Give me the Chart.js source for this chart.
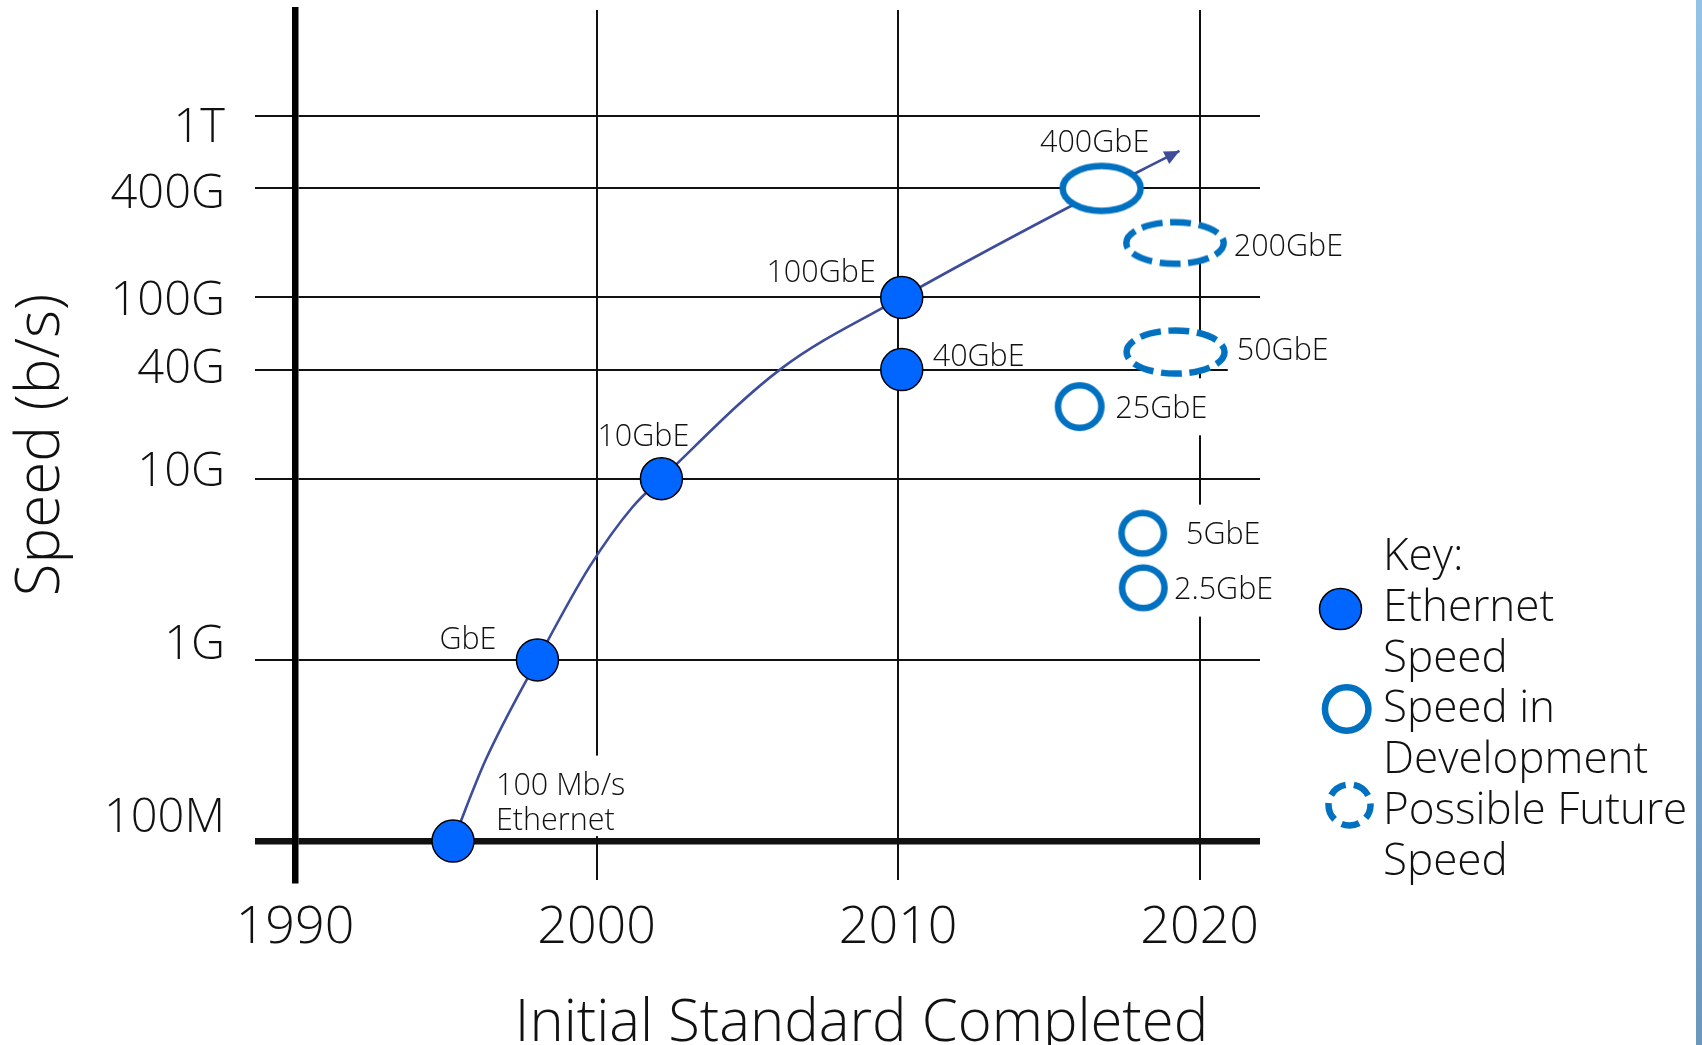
<!DOCTYPE html>
<html>
<head>
<meta charset="utf-8">
<title>Ethernet Speeds</title>
<script src="https://cdn.jsdelivr.net/npm/chart.js@4.4.1/dist/chart.umd.min.js"></script>
<style>
  html, body { margin: 0; padding: 0; background: #ffffff; overflow: hidden; }
  #wrap { position: relative; width: 1702px; height: 1045px; }
  #c { display: block; }
  #edge { position: absolute; top: 0; right: 0; width: 6px; height: 1045px;
          background: linear-gradient(#93c2e8, #6b97bf); }
</style>
</head>
<body>
<div id="wrap">
  <canvas id="c" width="1702" height="1045"></canvas>
  <div id="edge"></div>
</div>
<script>
// ---- data -------------------------------------------------------------
// Standards already shipping: year completed, rate in bit/s, name
const shippingYears  = [1995.24, 1998.04, 2002.15, 2010.12, 2010.12];
const shippingSpeeds = [1e8, 1e9, 1e10, 1e11, 4e10];
const shippingNames  = [['100 Mb/s', 'Ethernet'], 'GbE', '10GbE', '100GbE', '40GbE'];

// Speeds in development
const devYears  = [2016.75, 2016.02, 2018.11, 2018.13];
const devSpeeds = [4e11, 2.5e10, 5e9, 2.5e9];
const devNames  = ['400GbE', '25GbE', '5GbE', '2.5GbE'];

// Possible future speeds
const futureYears  = [2019.18, 2019.2];
const futureSpeeds = [2e11, 5e10];
const futureNames  = ['200GbE', '50GbE'];

// Trend curve through the standards, ending in an arrow
const trendYears  = [1995.24, 1996.32, 1998.04, 1999.77, 2001.2, 2002.15,
                     2006.08, 2010.12, 2015.48, 2019.33];
const trendSpeeds = [1e8, 2.8e8, 1e9, 3.27e9, 7e9, 1e10,
                     4e10, 1e11, 3.04e11, 6.44e11];

// Axes
const xTicks = [1990, 2000, 2010, 2020];
const yTicks = [1e8, 1e9, 1e10, 4e10, 1e11, 4e11, 1e12];
const yTickLabels = ['100M', '1G', '10G', '40G', '100G', '400G', '1T'];
const xTitle = 'Initial Standard Completed';
const yTitle = 'Speed (b/s)';

// Key
const keyTitle = 'Key:';
const keyEntries = [['Ethernet', 'Speed'], ['Speed in', 'Development'], ['Possible Future', 'Speed']];

// ---- style ------------------------------------------------------------
const FONT = "'Open Sans', 'Noto Sans', 'DejaVu Sans', sans-serif";
const LIGHT = '300';
const INK = '#111111';
const DOT_BLUE = '#0066ff';
const RING_BLUE = '#0070c0';
const TREND = '#3e4d9b';
const RING_W = 6.5;
const DASH = [21, 7.5];

// vertical nudge of each y tick label against its grid line (px, + is down)
const yLabelShift = [-22, -14, -6, 0, 4, 6, 12];

// ring outlines (centre-line radii)
const ringShape = {
  '400GbE': { rx: 39, ry: 22.5 },
  '25GbE':  { rx: 21.7, ry: 21.2 },
  '5GbE':   { rx: 21.2, ry: 20.3 },
  '2.5GbE': { rx: 21.2, ry: 20.3 },
  '200GbE': { rx: 48.7, ry: 20.8, dash: DASH },
  '50GbE':  { rx: 49, ry: 21.6, dash: DASH }
};

// label placement relative to its marker: dx, dy (to first baseline), alignment,
// optional white backing that hides grid lines behind the text
const labelPlace = {
  '100 Mb/s Ethernet': { dx: 43, dy: -46, align: 'left', box: { top: 39.5, bottom: 6 } },
  'GbE':    { dx: -41, dy: -11, align: 'right' },
  '10GbE':  { dx: -18, dy: -33, align: 'center' },
  '100GbE': { dx: -26, dy: -15, align: 'right' },
  '40GbE':  { dx: 31, dy: -4, align: 'left' },
  '400GbE': { dx: -61.7, dy: -36.7, align: 'left' },
  '200GbE': { dx: 58.8, dy: 13, align: 'left', box: { top: 39.5, bottom: 17.5 } },
  '50GbE':  { dx: 61.2, dy: 8.4, align: 'left', box: { top: 39.5, bottom: 17.5, left: 9 } },
  '25GbE':  { dx: 35.7, dy: 11.2, align: 'left', box: { top: 39.5, bottom: 17.5 } },
  '5GbE':   { dx: 43.3, dy: 10.9, align: 'left', box: { top: 39.5, bottom: 17.5 } },
  '2.5GbE': { dx: 30.7, dy: 11.3, align: 'left', box: { top: 39.5, bottom: 17.5 } }
};
const LABEL_SIZE = 30.5;
const LABEL_LINE = 35;

// ---- helpers ----------------------------------------------------------
function nameKey(n) { return Array.isArray(n) ? n.join(' ') : n; }

function strokeEllipse(ctx, cx, cy, rx, ry, dash, fill) {
  ctx.beginPath();
  ctx.ellipse(cx, cy, rx, ry, 0, 0, Math.PI * 2);
  if (fill) { ctx.fillStyle = fill; ctx.fill(); }
  ctx.setLineDash(dash || []);
  ctx.lineWidth = RING_W;
  ctx.strokeStyle = RING_BLUE;
  ctx.stroke();
  ctx.setLineDash([]);
}

// white-filled ring drawn onto its own canvas and used as a point style
function makeRing(name) {
  const s = ringShape[name];
  const w = Math.ceil(2 * s.rx + RING_W + 4);
  const h = Math.ceil(2 * s.ry + RING_W + 4);
  const cv = document.createElement('canvas');
  cv.width = w; cv.height = h;
  const ctx = cv.getContext('2d');
  if (s.dash) ctx.lineDashOffset = 6;
  strokeEllipse(ctx, w / 2, h / 2, s.rx, s.ry, s.dash, '#ffffff');
  return cv;
}

const toPoints = (xs, ys) => xs.map((x, i) => ({ x: x, y: ys[i] }));

// ---- key (legend) box on the right of the plot ----------------------
const KEY_WIDTH = 442;
const keyBox = {
  position: 'right', weight: 0, fullSize: false, options: {},
  left: 0, top: 0, right: 0, bottom: 0, width: 0, height: 0,
  isHorizontal() { return false; },
  update(maxWidth, maxHeight) { this.width = KEY_WIDTH; this.height = maxHeight; },
  draw() {
    const ctx = this.chart.ctx;
    const left = this.left;
    const textX = left + 123;
    const firstBase = 570, step = 50.8;
    ctx.save();
    ctx.font = LIGHT + ' 44px ' + FONT;
    ctx.fillStyle = INK;
    ctx.textAlign = 'left';
    ctx.textBaseline = 'alphabetic';
    let line = 0;
    ctx.fillText(keyTitle, textX, firstBase);
    line++;
    const markers = [
      { dx: 80.5, dy: -11.7, kind: 'dot' },
      { dx: 86.7, dy: -13.4, kind: 'ring' },
      { dx: 89.5, dy: -19, kind: 'dash' }
    ];
    keyEntries.forEach((entry, k) => {
      const base0 = firstBase + line * step;
      entry.forEach((txt) => {
        ctx.fillText(txt, textX, firstBase + line * step);
        line++;
      });
      const m = markers[k];
      const cx = left + m.dx, cy = base0 + m.dy;
      if (m.kind === 'dot') {
        ctx.beginPath();
        ctx.ellipse(cx, cy, 21, 20.5, 0, 0, Math.PI * 2);
        ctx.fillStyle = DOT_BLUE; ctx.fill();
        ctx.lineWidth = 1.5; ctx.strokeStyle = '#000'; ctx.stroke();
      } else if (m.kind === 'ring') {
        strokeEllipse(ctx, cx, cy, 21.75, 21.75, null, '#ffffff');
      } else {
        ctx.lineDashOffset = 4;
        strokeEllipse(ctx, cx, cy, 21, 20.5, [18, 8.4], '#ffffff');
        ctx.lineDashOffset = 0;
      }
      ctx.fillStyle = INK;
    });
    ctx.restore();
  }
};

const keyPlugin = {
  id: 'speedKey',
  beforeInit(chart) {
    keyBox.chart = chart;
    Chart.layouts.addBox(chart, keyBox);
  }
};

// ---- marker labels ----------------------------------------------------
const labelSets = [
  { dataset: 1, names: shippingNames },
  { dataset: 2, names: devNames },
  { dataset: 3, names: futureNames }
];

const labelPlugin = {
  id: 'markerLabels',
  beforeDatasetsDraw(chart) {
    const ctx = chart.ctx;
    ctx.save();
    ctx.font = LIGHT + ' ' + LABEL_SIZE + 'px ' + FONT;
    ctx.textBaseline = 'alphabetic';
    labelSets.forEach((set) => {
      const meta = chart.getDatasetMeta(set.dataset);
      meta.data.forEach((pt, i) => {
        const name = set.names[i];
        const lines = Array.isArray(name) ? name : [name];
        const p = labelPlace[nameKey(name)];
        const bx = pt.x + p.dx, by = pt.y + p.dy;
        const widths = lines.map((l) => ctx.measureText(l).width);
        const wMax = Math.max.apply(null, widths);
        let x0 = bx;
        if (p.align === 'right') x0 = bx - wMax;
        if (p.align === 'center') x0 = bx - wMax / 2;
        if (p.box) {
          const padL = p.box.left || 5;
          ctx.fillStyle = '#ffffff';
          ctx.fillRect(x0 - padL, by - p.box.top, wMax + padL + 5,
                       p.box.top + p.box.bottom + (lines.length - 1) * LABEL_LINE);
        }
        ctx.fillStyle = INK;
        ctx.textAlign = p.align;
        lines.forEach((l, k) => ctx.fillText(l, bx, by + k * LABEL_LINE));
      });
    });
    ctx.restore();
  }
};

// ---- arrow head at the end of the trend curve ---------------------
const arrowPlugin = {
  id: 'trendArrow',
  afterDatasetDraw(chart, args) {
    if (args.index !== 0) return;
    const pts = args.meta.data;
    const tip = pts[pts.length - 1], prev = pts[pts.length - 2];
    const a = Math.atan2(tip.y - prev.y, tip.x - prev.x);
    const len = 15, half = 7;
    const ctx = chart.ctx;
    ctx.save();
    ctx.translate(tip.x, tip.y);
    ctx.rotate(a);
    ctx.beginPath();
    ctx.moveTo(0, 0);
    ctx.lineTo(-len, -half);
    ctx.lineTo(-len, half);
    ctx.closePath();
    ctx.fillStyle = TREND;
    ctx.fill();
    ctx.restore();
  }
};

// ---- chart ------------------------------------------------------------
new Chart(document.getElementById('c'), {
  type: 'scatter',
  data: {
    datasets: [
      {
        label: 'Trend',
        data: toPoints(trendYears, trendSpeeds),
        showLine: true,
        borderColor: TREND,
        borderWidth: 2.6,
        pointRadius: 0,
        cubicInterpolationMode: 'monotone',
        fill: false,
        order: 3
      },
      {
        label: 'Ethernet Speed',
        data: toPoints(shippingYears, shippingSpeeds),
        pointRadius: 21,
        pointBackgroundColor: DOT_BLUE,
        pointBorderColor: '#000000',
        pointBorderWidth: 1.5,
        order: 2
      },
      {
        label: 'Speed in Development',
        data: toPoints(devYears, devSpeeds),
        pointStyle: devNames.map(makeRing),
        pointRadius: 20,
        order: 1
      },
      {
        label: 'Possible Future Speed',
        data: toPoints(futureYears, futureSpeeds),
        pointStyle: futureNames.map(makeRing),
        pointRadius: 20,
        order: 1
      }
    ]
  },
  options: {
    responsive: false,
    animation: false,
    events: [],
    layout: { autoPadding: false, padding: { left: 21, top: 10, right: 0, bottom: 0 } },
    scales: {
      x: {
        type: 'linear',
        min: 1990,
        max: 2022,
        afterBuildTicks: (s) => { s.ticks = xTicks.map((v) => ({ value: v })); },
        afterFit: (s) => { s.height = 123; s.paddingLeft = 0; s.paddingRight = 0; },
        ticks: {
          autoSkip: false, maxRotation: 0, padding: 22, color: INK,
          font: { family: FONT, size: 52, weight: LIGHT, lineHeight: '52px' },
          callback: (v) => String(v)
        },
        grid: { color: INK, lineWidth: 2, drawTicks: false },
        border: { display: false }
      },
      y: {
        type: 'logarithmic',
        min: 6.1e7,
        max: 3.86e12,
        afterBuildTicks: (s) => { s.ticks = yTicks.map((v) => ({ value: v })); },
        afterFit: (s) => { s.width = 274; s.paddingTop = 0; s.paddingBottom = 0; },
        ticks: {
          autoSkip: false, padding: 30, color: INK,
          font: (c) => ({ family: FONT, size: 47, weight: LIGHT,
                          lineHeight: Math.max(1, Math.abs(yLabelShift[c.index] || 0) * 2) + 'px' }),
          callback: (v, i) => {
            const s = yLabelShift[i], t = yTickLabels[i];
            return s < 0 ? [t, ''] : (s > 0 ? ['', t] : t);
          }
        },
        grid: {
          color: INK,
          lineWidth: (c) => (c.tick && c.tick.value === 1e8 ? 6.5 : 2),
          tickLength: 40,
          drawTicks: true
        },
        border: { display: true, color: '#000000', width: 6.5 },
        title: {
          display: true, text: yTitle, color: INK, padding: 0,
          font: { family: FONT, size: 60, weight: LIGHT, lineHeight: '42px' }
        }
      }
    },
    plugins: {
      legend: { display: false },
      tooltip: { enabled: false },
      title: {
        display: true, position: 'bottom', text: xTitle, color: INK, align: 'center',
        font: { family: FONT, size: 58, weight: LIGHT, lineHeight: '42px' },
        padding: { top: 0, bottom: 0 }
      }
    }
  },
  plugins: [keyPlugin, labelPlugin, arrowPlugin]
});
</script>
</body>
</html>
